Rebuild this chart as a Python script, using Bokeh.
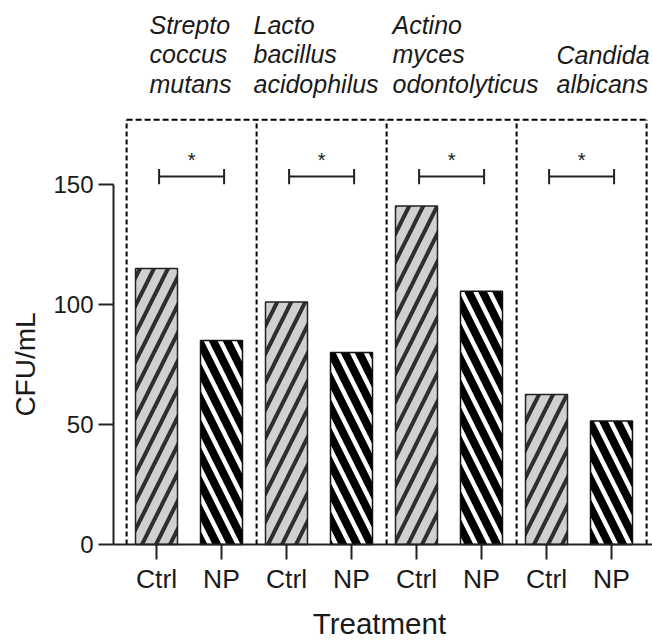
import math
from bokeh.plotting import figure
from bokeh.models import Range1d, FixedTicker, ColumnDataSource
from bokeh.core.properties import value
from bokeh.embed import file_html
from bokeh.resources import INLINE

# ---- data ----
species = ["Strepto\ncoccus\nmutans", "Lacto\nbacillus\nacidophilus",
           "Actino\nmyces\nodontolyticus", "Candida\nalbicans"]
treatments = ["Ctrl", "NP"]
ctrl_values = [115, 101, 141, 62.5]
np_values = [85, 80, 105.5, 51.5]
significance = ["*", "*", "*", "*"]
y_ticks = [0, 50, 100, 150]
y_label = "CFU/mL"
x_label = "Treatment"

# ---- layout constants ----
FONT = "Liberation Sans"
TXT = "#1a1a1a"
shift = 0.04           # group decorations slightly right of bars
box_top = 177
bracket_y = 153.3
cap_half = 3.2
star_y = 160.2
label_y = 186.2
label_dx = [-39.5, -65.5, -56.5, -22.5]
y_axis_at = -0.6615

n = len(species)
ctrl_x = [2 * i for i in range(n)]
np_x = [2 * i + 1 for i in range(n)]

p = figure(width=652, height=643, output_backend="svg", toolbar_location=None,
           x_range=Range1d(-2.4, 7.6308), y_range=Range1d(-41.25, 226.67),
           min_border=0)
p.outline_line_color = None
p.grid.visible = False
p.background_fill_color = "white"

# bars
p.vbar(x=ctrl_x, top=ctrl_values, width=0.646, fill_color="#d0d0d0",
       line_color="#222222", line_width=1.5, hatch_pattern="/",
       hatch_color="#2e2e2e", hatch_weight=4, hatch_scale=28)
p.vbar(x=np_x, top=np_values, width=0.646, fill_color="black",
       line_color="#111111", line_width=1.5, hatch_pattern="\\",
       hatch_color="white", hatch_weight=4.5, hatch_scale=28)

# dashed group boxes
edges = [2 * i - 0.5 + shift for i in range(n + 1)]
p.segment(x0=edges, y0=[0] * len(edges), x1=edges, y1=[box_top] * len(edges),
          line_color="black", line_width=2, line_dash="5 3")
p.segment(x0=[edges[0]], y0=[box_top], x1=[edges[-1]], y1=[box_top],
          line_color="black", line_width=2, line_dash="6 3")

# significance brackets
bx0 = [c + shift for c in ctrl_x]
bx1 = [c + shift for c in np_x]
p.segment(x0=bx0, y0=[bracket_y] * n, x1=bx1, y1=[bracket_y] * n,
          line_color="#222222", line_width=2)
p.segment(x0=bx0 + bx1, y0=[bracket_y - cap_half] * (2 * n),
          x1=bx0 + bx1, y1=[bracket_y + cap_half] * (2 * n),
          line_color="#222222", line_width=2)
p.text(x=[2 * i + 0.5 + shift for i in range(n)], y=[star_y] * n, text=significance,
       text_align="center", text_baseline="alphabetic",
       text_font=value(FONT), text_font_size="20px", text_color=TXT)

# species labels
src = ColumnDataSource(dict(x=[2 * i + 0.5 for i in range(n)],
                            y=[label_y] * n, text=species, dx=label_dx))
p.text(x="x", y="y", text="text", x_offset="dx", source=src,
       text_align="left", text_baseline="bottom", text_line_height=1.04,
       text_font=value(FONT), text_font_style="italic",
       text_font_size="25px", text_color=TXT)

# axes (pinned at data locations)
xa = p.xaxis[0]
xa.fixed_location = 0
xa.bounds = (y_axis_at, 7.6308)
xa.ticker = FixedTicker(ticks=ctrl_x + np_x)
xa.major_label_overrides = {**{c: treatments[0] for c in ctrl_x},
                            **{c: treatments[1] for c in np_x}}
ya = p.yaxis[0]
ya.fixed_location = y_axis_at
ya.ticker = FixedTicker(ticks=y_ticks)
ya.bounds = (0, 150)
for ax in (xa, ya):
    ax.axis_line_width = 2
    ax.axis_line_color = "#222222"
    ax.major_tick_line_width = 2
    ax.major_tick_line_color = "#222222"
    ax.major_tick_out = 15
    ax.major_tick_in = 0
    ax.minor_tick_line_color = None
    ax.major_label_text_font = FONT
    ax.major_label_text_color = TXT
xa.major_label_text_font_size = "26.5px"
ya.major_label_text_font_size = "24px"
xa.major_label_standoff = 4
ya.major_label_standoff = 5

# axis titles
p.text(x=[3.43], y=[-33.1], text=[x_label], text_align="center",
       text_baseline="alphabetic", text_font=value(FONT),
       text_font_size="29.5px", text_color=TXT)
p.text(x=[-2.02], y=[75], text=[y_label], angle=math.pi / 2,
       text_align="center", text_baseline="alphabetic",
       text_font=value(FONT), text_font_size="28px", text_color=TXT)

open("out.html", "w").write(file_html(p, INLINE))
